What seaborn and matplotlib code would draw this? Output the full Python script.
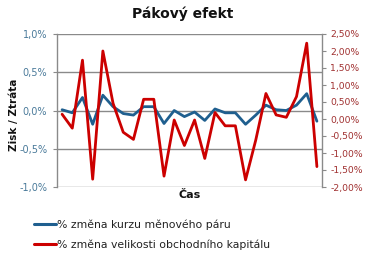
import matplotlib
matplotlib.use("Agg")
import matplotlib.pyplot as plt
import seaborn as sns
import pandas as pd
from matplotlib.ticker import FuncFormatter
from matplotlib.lines import Line2D

title = "Pákový efekt"
x_label = "Čas"
y_label = "Zisk / Ztráta"
series_blue = "% změna kurzu měnového páru"
series_red = "% změna velikosti obchodního kapitálu"

# period index
periods = list(range(26))
# % change of currency pair (left axis, %)
pair_change = [0.01, -0.03, 0.17, -0.18, 0.20, 0.05, -0.04, -0.06, 0.05, 0.05,
               -0.17, 0.00, -0.08, -0.02, -0.13, 0.02, -0.03, -0.03, -0.18, -0.06,
               0.07, 0.01, 0.00, 0.07, 0.22, -0.14]
# % change of trading capital (right axis, %)
capital_change = [0.14, -0.27, 1.73, -1.77, 2.00, 0.46, -0.39, -0.60, 0.58, 0.58,
                  -1.68, -0.03, -0.78, -0.03, -1.16, 0.19, -0.20, -0.20, -1.79, -0.62,
                  0.75, 0.12, 0.05, 0.66, 2.23, -1.40]

left_ticks = [-1.0, -0.5, 0.0, 0.5, 1.0]
right_ticks = [-2.0, -1.5, -1.0, -0.5, 0.0, 0.5, 1.0, 1.5, 2.0, 2.5]

df = pd.DataFrame({"t": periods, "pair": pair_change, "cap": capital_change})

sns.set_theme(style="white")
plt.rcParams["font.family"] = ["DejaVu Sans"]

BLUE = "#1F5F8F"
RED = "#CC0000"
LBLUE = "#4A7A9A"
LRED = "#A03030"
GRID = "#8A8A8A"

fig = plt.figure(figsize=(3.70, 2.54), dpi=100)
ax = fig.add_axes([57/370, 1-187/254, (322-57)/370, (187-34)/254])
ax2 = ax.twinx()

sns.lineplot(data=df, x="t", y="pair", ax=ax, color=BLUE, linewidth=2.0)
sns.lineplot(data=df, x="t", y="cap", ax=ax2, color=RED, linewidth=2.0)

ax.set_xlim(-0.5, 25.5)
ax.set_ylim(-1.0, 1.0)
ax2.set_ylim(-2.0, 2.5)
ax.set_yticks(left_ticks)
ax2.set_yticks(right_ticks)
ax.yaxis.set_major_formatter(FuncFormatter(lambda v, p: f"{v:.1f}%".replace(".", ",")))
ax2.yaxis.set_major_formatter(FuncFormatter(lambda v, p: f"{v:.2f}%".replace(".", ",")))
ax.set_xticks([])
ax2.set_xticks([])

for a in (ax, ax2):
    for s in a.spines.values():
        s.set_visible(False)
ax.spines["left"].set_visible(True)
ax.spines["left"].set_color(GRID)
ax.spines["left"].set_linewidth(1.0)
ax2.spines["right"].set_visible(True)
ax2.spines["right"].set_color(GRID)
ax2.spines["right"].set_linewidth(1.0)

ax.grid(axis="y", color=GRID, linewidth=1.0)
ax.set_axisbelow(True)
ax2.grid(False)

ax.tick_params(axis="y", which="both", left=True, length=3, width=0.8, color=GRID,
               labelsize=7, labelcolor=LBLUE, pad=4)
ax2.tick_params(axis="y", which="both", right=True, length=3, width=0.8, color=GRID,
                labelsize=6.7, labelcolor=LRED, pad=3)

ax.set_ylabel("")
ax2.set_ylabel("")
fig.text(14/370, 1-115/254, y_label, rotation=90, ha="center", va="center",
         fontsize=7.5, fontweight="bold", color="#111111")
ax.set_xlabel(x_label, fontsize=8, fontweight="bold", color="#111111", labelpad=2)

fig.text(183/370, 1-14/254, title, ha="center", va="center", fontsize=10,
         fontweight="bold", color="#111111")

handles = [Line2D([0], [0], color=BLUE, linewidth=2.2),
           Line2D([0], [0], color=RED, linewidth=2.2)]
fig.legend(handles, [series_blue, series_red], loc="upper left",
           bbox_to_anchor=(29/370, 1-214/254), frameon=False, fontsize=7.8,
           handlelength=2.0, handletextpad=0.05, labelspacing=0.85, borderpad=0,
           labelcolor="#222222")

fig.savefig("out.png", dpi=100, facecolor="white")
